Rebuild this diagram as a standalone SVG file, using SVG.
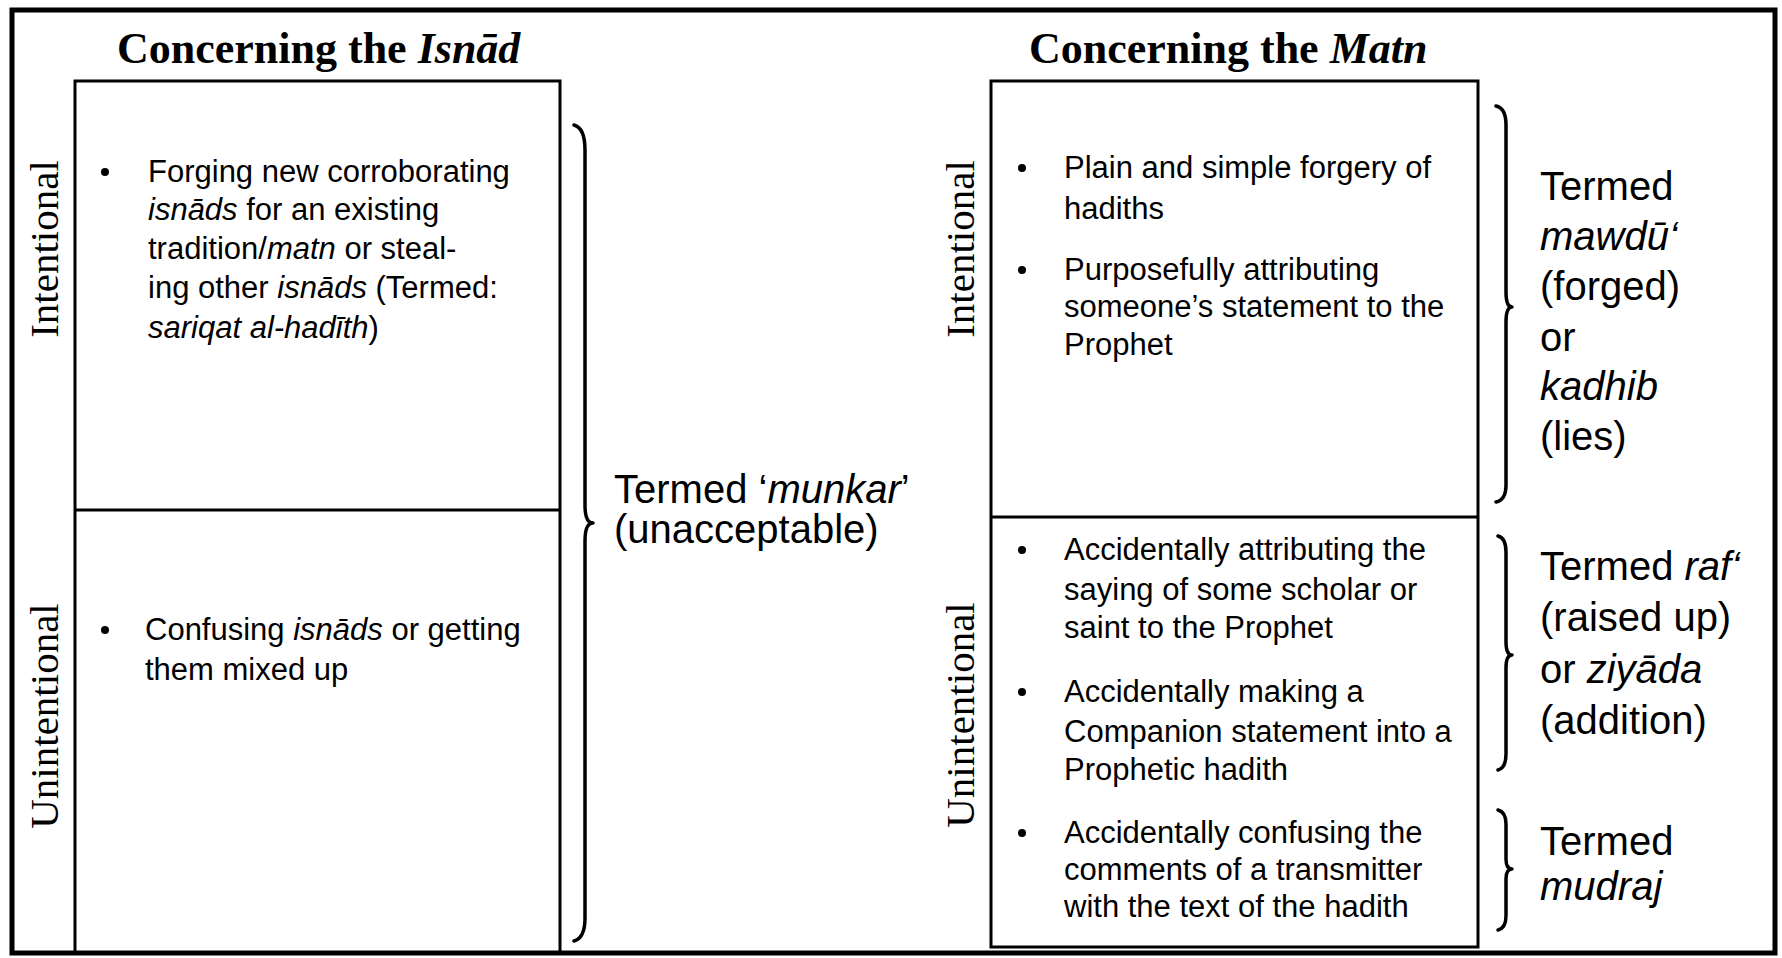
<svg xmlns="http://www.w3.org/2000/svg" width="1782" height="958" viewBox="0 0 1782 958">
<style>
.title{font-family:"Liberation Serif",serif;font-weight:bold;font-size:44px;fill:#000}
.vlab{font-family:"Liberation Serif",serif;font-size:41px;text-anchor:middle;fill:#000}
.body{font-family:"Liberation Sans",sans-serif;font-size:31px;fill:#000}
.term{font-family:"Liberation Sans",sans-serif;font-size:40px;fill:#000}
.it{font-style:italic}
.box{fill:none;stroke:#000;stroke-width:3}
.outer{fill:none;stroke:#000;stroke-width:5}
.brace{fill:none;stroke:#000;stroke-width:3.5;stroke-linecap:round;stroke-linejoin:round}
.bul{fill:#000}
</style>
<rect x="0" y="0" width="1782" height="958" fill="#fff"/>
<rect class="outer" x="12" y="10" width="1763" height="943"/>

<g id="isnad">
  <text class="title" x="117" y="63">Concerning the <tspan class="it">Isnād</tspan></text>
  <rect class="box" x="75" y="81" width="485" height="872"/>
  <line class="box" x1="75" y1="510" x2="560" y2="510"/>
  <text class="vlab" transform="translate(58,249) rotate(-90)">Intentional</text>
  <text class="vlab" transform="translate(58,716) rotate(-90)">Unintentional</text>
</g>

<g id="isnad-intentional">
  <circle class="bul" cx="105" cy="172" r="4"/>
  <text class="body" x="148" y="182">Forging new corroborating</text>
  <text class="body" x="148" y="220"><tspan class="it">isnāds</tspan> for an existing</text>
  <text class="body" x="148" y="259">tradition/<tspan class="it">matn</tspan> or steal-</text>
  <text class="body" x="148" y="298">ing other <tspan class="it">isnāds</tspan> (Termed:</text>
  <text class="body" x="148" y="338"><tspan class="it">sariqat al-hadīth</tspan>)</text>
</g>

<g id="isnad-unintentional">
  <circle class="bul" cx="105" cy="630" r="4"/>
  <text class="body" x="145" y="640">Confusing <tspan class="it">isnāds</tspan> or getting</text>
  <text class="body" x="145" y="680">them mixed up</text>
</g>

<g id="munkar">
  <text class="term" x="614" y="503">Termed ‘<tspan class="it">munkar</tspan>’</text>
  <text class="term" x="614" y="543">(unacceptable)</text>
</g>

<g id="matn">
  <text class="title" x="1029" y="63">Concerning the <tspan class="it">Matn</tspan></text>
  <rect class="box" x="991" y="81" width="487" height="866"/>
  <line class="box" x1="991" y1="517" x2="1478" y2="517"/>
  <text class="vlab" transform="translate(974,249) rotate(-90)">Intentional</text>
  <text class="vlab" transform="translate(974,715) rotate(-90)">Unintentional</text>
</g>

<g id="matn-intentional">
  <circle class="bul" cx="1022" cy="168" r="4"/>
  <text class="body" x="1064" y="178">Plain and simple forgery of</text>
  <text class="body" x="1064" y="219">hadiths</text>
  <circle class="bul" cx="1022" cy="270" r="4"/>
  <text class="body" x="1064" y="280">Purposefully attributing</text>
  <text class="body" x="1064" y="317">someone’s statement to the</text>
  <text class="body" x="1064" y="355">Prophet</text>
</g>

<g id="matn-unintentional">
  <circle class="bul" cx="1022" cy="550" r="4"/>
  <text class="body" x="1064" y="560">Accidentally attributing the</text>
  <text class="body" x="1064" y="600">saying of some scholar or</text>
  <text class="body" x="1064" y="638">saint to the Prophet</text>
  <circle class="bul" cx="1022" cy="692" r="4"/>
  <text class="body" x="1064" y="702">Accidentally making a</text>
  <text class="body" x="1064" y="742">Companion statement into a</text>
  <text class="body" x="1064" y="780">Prophetic hadith</text>
  <circle class="bul" cx="1022" cy="833" r="4"/>
  <text class="body" x="1064" y="843">Accidentally confusing the</text>
  <text class="body" x="1064" y="880">comments of a transmitter</text>
  <text class="body" x="1064" y="917">with the text of the hadith</text>
</g>

<g id="mawdu">
  <text class="term" x="1540" y="200">Termed</text>
  <text class="term it" x="1540" y="250">mawdū‘</text>
  <text class="term" x="1540" y="300">(forged)</text>
  <text class="term" x="1540" y="351">or</text>
  <text class="term it" x="1540" y="400">kadhib</text>
  <text class="term" x="1540" y="450">(lies)</text>
</g>

<g id="raf">
  <text class="term" x="1540" y="580">Termed <tspan class="it">raf‘</tspan></text>
  <text class="term" x="1540" y="631">(raised up)</text>
  <text class="term" x="1540" y="683">or <tspan class="it">ziyāda</tspan></text>
  <text class="term" x="1540" y="734">(addition)</text>
</g>

<g id="mudraj">
  <text class="term" x="1540" y="855">Termed</text>
  <text class="term it" x="1540" y="900">mudraj</text>
</g>

<g id="connectors">
  <path class="brace" d="M574 125 Q585 128 585 150 L585 505 Q585 523 593 523 Q585 523 585 541 L585 918 Q585 938 574 941"/>
  <path class="brace" d="M1496 106 Q1506 108 1506 125 L1506 292 Q1506 307 1512 307 Q1506 307 1506 322 L1506 485 Q1506 500 1496 502"/>
  <path class="brace" d="M1498 536 Q1506 538 1506 552 L1506 642 Q1506 655 1512 655 Q1506 655 1506 668 L1506 754 Q1506 768 1498 770"/>
  <path class="brace" d="M1498 810 Q1506 812 1506 824 L1506 859 Q1506 869 1512 869 Q1506 869 1506 879 L1506 916 Q1506 928 1498 930"/>
</g>
</svg>
